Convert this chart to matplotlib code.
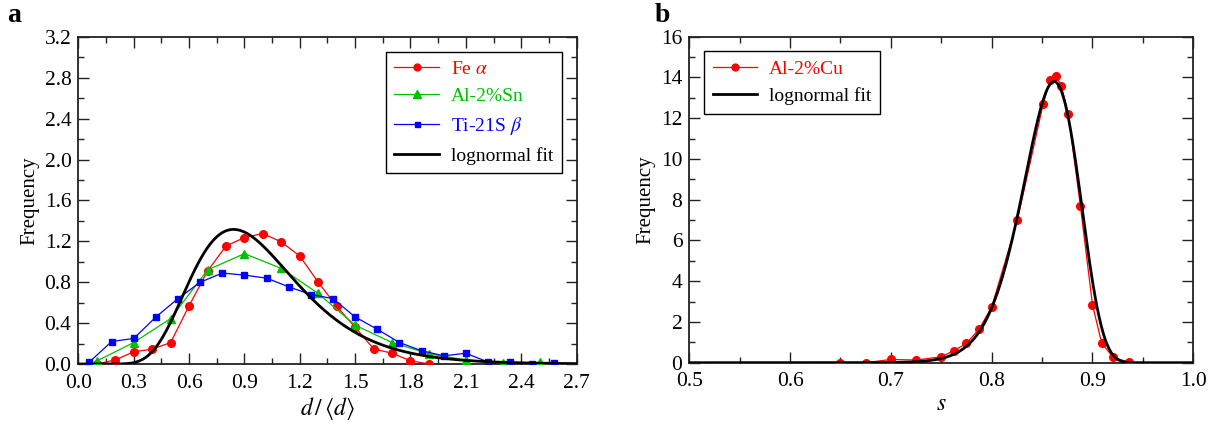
import numpy as np
import matplotlib
matplotlib.use("Agg")
import matplotlib.pyplot as plt
from matplotlib.ticker import MultipleLocator

plt.rcParams['font.family'] = ['Liberation Serif', 'DejaVu Serif']
plt.rcParams['mathtext.fontset'] = 'stix'

# ---- Panel a data ----
fe_x = [0.1, 0.2, 0.3, 0.4, 0.5, 0.6, 0.7, 0.8, 0.9, 1.0, 1.1, 1.2, 1.3, 1.4, 1.5, 1.6, 1.7, 1.8, 1.9]
fe_y = [0.0, 0.04, 0.12, 0.145, 0.21, 0.57, 0.91, 1.155, 1.237, 1.277, 1.194, 1.056, 0.80, 0.564, 0.36, 0.148, 0.105, 0.032, 0.0]

sn_x = [0.1, 0.3, 0.5, 0.7, 0.9, 1.1, 1.3, 1.5, 1.7, 1.9, 2.1, 2.3, 2.5]
sn_y = [0.03, 0.21, 0.445, 0.92, 1.08, 0.935, 0.69, 0.38, 0.21, 0.10, 0.04, 0.01, 0.015]

ti_x = [0.06, 0.18, 0.30, 0.42, 0.54, 0.66, 0.78, 0.90, 1.02, 1.14, 1.26, 1.38,
        1.50, 1.62, 1.74, 1.86, 1.98, 2.10, 2.22, 2.34, 2.46, 2.58]
ti_y = [0.02, 0.22, 0.25, 0.46, 0.64, 0.80, 0.89, 0.87, 0.84, 0.755, 0.68, 0.64,
        0.46, 0.34, 0.21, 0.13, 0.08, 0.105, 0.02, 0.02, 0.0, 0.01]

# lognormal fit parameters (panel a, mean-normalised size)
fit_a_sigma = 0.34
fit_a_mu = -fit_a_sigma ** 2 / 2

# ---- Panel b data ----
cu_s = [0.65, 0.675, 0.70, 0.725, 0.75, 0.7625, 0.775, 0.7875, 0.80, 0.8255,
        0.851, 0.858, 0.8635, 0.869, 0.876, 0.888, 0.90, 0.909, 0.9205, 0.9365]
cu_y = [0.0, 0.0, 0.16, 0.13, 0.29, 0.59, 0.95, 1.65, 2.73, 7.0,
        12.68, 13.87, 14.07, 13.6, 12.2, 7.7, 2.85, 0.98, 0.26, 0.02]

# lognormal fit parameters (panel b, in 1 - s)
fit_b_sigma = 0.205
fit_b_mu = -1.938


def lognorm_pdf(t, mu, sigma):
    t = np.asarray(t, dtype=float)
    out = np.zeros_like(t)
    m = t > 0
    out[m] = np.exp(-(np.log(t[m]) - mu) ** 2 / (2 * sigma ** 2)) / (t[m] * sigma * np.sqrt(2 * np.pi))
    return out


RED = '#ff0000'
GREEN = '#00c000'
BLUE = '#0000ff'

fig = plt.figure(figsize=(12.23, 4.32), dpi=100)
axa = fig.add_axes([0.0641, 0.1574, 0.4073, 0.757])
axb = fig.add_axes([0.5636, 0.1604, 0.4121, 0.7546])

FS_TICK = 15.5
FS_LAB = 15
FS_LEG = 14


def style(ax):
    for sp in ax.spines.values():
        sp.set_linewidth(1.3)
        sp.set_color('#222222')
    ax.tick_params(which='both', direction='in', top=True, right=True,
                   labelsize=FS_TICK, color='#222222', width=1.0)
    ax.tick_params(axis='x', which='both', pad=7)
    ax.tick_params(axis='y', which='both', pad=5)
    ax.tick_params(which='major', length=8)
    ax.tick_params(which='minor', length=4.5)


LEG_KW = dict(fontsize=FS_LEG, frameon=True, fancybox=False, edgecolor='black',
              framealpha=1, handlelength=2.3, handletextpad=0.6, borderaxespad=0.75,
              labelspacing=0.5, markerscale=0.9, labelcolor='linecolor',
              borderpad=0.45)

# Panel a
xf = np.linspace(0.0, 2.7, 600)
axa.plot(fe_x, fe_y, '-o', color=RED, lw=0.9, ms=5.5, label=r'Fe $\alpha$', zorder=3)
axa.plot(sn_x, sn_y, '-^', color=GREEN, lw=0.9, ms=6, label='Al-2%Sn', zorder=3)
axa.plot(ti_x, ti_y, '-s', color=BLUE, lw=0.9, ms=4, label=r'Ti-21S $\beta$', zorder=3)
axa.plot(xf, lognorm_pdf(xf, fit_a_mu, fit_a_sigma), '-', color='black', lw=2.0,
         label='lognormal fit', zorder=4)
axa.set_xlim(0, 2.7)
axa.set_ylim(0, 3.2)
axa.xaxis.set_major_locator(MultipleLocator(0.3))
axa.xaxis.set_minor_locator(MultipleLocator(0.15))
axa.yaxis.set_major_locator(MultipleLocator(0.4))
axa.yaxis.set_minor_locator(MultipleLocator(0.2))
axa.xaxis.set_major_formatter(matplotlib.ticker.FormatStrFormatter('%.1f'))
axa.yaxis.set_major_formatter(matplotlib.ticker.FormatStrFormatter('%.1f'))
style(axa)
axa.set_xlabel(r'$d\,/\,\langle d\rangle$', fontsize=FS_LAB + 2, labelpad=2)
axa.set_ylabel('Frequency', fontsize=FS_LAB, labelpad=4)
leg = axa.legend(loc='upper right', **LEG_KW)
leg.get_frame().set_linewidth(1.0)

# Panel b
sf = np.linspace(0.5, 0.999, 1000)
axb.plot(cu_s, cu_y, '-o', color=RED, lw=0.9, ms=5.5, label='Al-2%Cu', zorder=3)
axb.plot(sf, lognorm_pdf(1 - sf, fit_b_mu, fit_b_sigma), '-', color='black', lw=2.0,
         label='lognormal fit', zorder=4)
axb.set_xlim(0.5, 1.0)
axb.set_ylim(0, 16)
axb.xaxis.set_major_locator(MultipleLocator(0.1))
axb.xaxis.set_minor_locator(MultipleLocator(0.05))
axb.yaxis.set_major_locator(MultipleLocator(2))
axb.yaxis.set_minor_locator(MultipleLocator(1))
axb.xaxis.set_major_formatter(matplotlib.ticker.FormatStrFormatter('%.1f'))
style(axb)
axb.set_xlabel(r'$s$', fontsize=FS_LAB + 2, labelpad=2)
axb.set_ylabel('Frequency', fontsize=FS_LAB, labelpad=4)
legb = axb.legend(loc='upper left', **LEG_KW)
legb.get_frame().set_linewidth(1.0)

fig.text(0.006, 0.965, 'a', fontsize=20, fontweight='bold', va='center', ha='left')
fig.text(0.535, 0.965, 'b', fontsize=20, fontweight='bold', va='center', ha='left')

fig.savefig('out.png', dpi=100)
